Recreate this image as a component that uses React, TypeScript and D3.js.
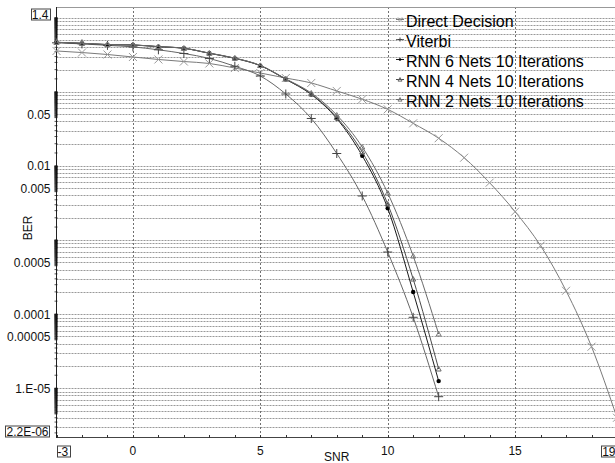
import React, { useEffect, useRef } from "react";
import * as d3 from "d3";

const snrLong = [-3, -2, -1, 0, 1, 2, 3, 4, 5, 6, 7, 8, 9, 10, 11, 12, 13, 14, 15, 16, 17, 18, 19];
const snrShort = [-3, -2, -1, 0, 1, 2, 3, 4, 5, 6, 7, 8, 9, 10, 11, 12];

const directDecision = [0.357, 0.34, 0.32, 0.296, 0.274, 0.257, 0.242, 0.21, 0.18, 0.154, 0.132, 0.103,
  0.0797, 0.0582, 0.0377, 0.0237, 0.01295, 0.00595, 0.00242, 0.00084, 0.000207, 3.64e-5, 4.0e-6];
const viterbi = [0.46, 0.445, 0.425, 0.405, 0.37, 0.33, 0.283, 0.222, 0.164, 0.0937, 0.0438, 0.01475,
  0.00394, 0.00069, 9.08e-5, 7.7e-6];
const rnn6 = [0.467, 0.453, 0.435, 0.43, 0.408, 0.388, 0.332, 0.284, 0.226, 0.148, 0.0923, 0.0437,
  0.01377, 0.00269, 0.000199, 1.25e-5];
const rnn4 = [0.467, 0.453, 0.435, 0.43, 0.408, 0.388, 0.333, 0.285, 0.227, 0.149, 0.0937, 0.0452,
  0.01545, 0.00307, 0.000298, 1.82e-5];
const rnn2 = [0.468, 0.454, 0.436, 0.431, 0.409, 0.389, 0.334, 0.286, 0.228, 0.15, 0.0967, 0.0488,
  0.01805, 0.00432, 0.00061, 5.4e-5];

const seriesNames = ["Direct Decision", "Viterbi", "RNN 6 Nets 10 Iterations", "RNN 4 Nets 10 Iterations", "RNN 2 Nets 10 Iterations"];

const xTickLabels = ["0", "5", "10", "15"];
const xTickValues = [0, 5, 10, 15];
const yTickLabels = ["0.05", "0.01", "0.005", "0.0005", "0.0001", "0.00005", "1.E-05"];
const yTickValues = [0.05, 0.01, 0.005, 0.0005, 0.0001, 0.00005, 0.00001];

const W = 615;
const H = 463;

const markerPath = (kind: string, s: number) => {
  if (kind === "cross") return `M${-s},${-s}L${s},${s}M${-s},${s}L${s},${-s}`;
  if (kind === "plus") return `M${-s},0L${s},0M0,${-s}L0,${s}`;
  if (kind === "tri") return `M0,${-s}L${s},${s * 0.8}L${-s},${s * 0.8}Z`;
  return "";
};

const App = () => {
  const ref = useRef<SVGSVGElement>(null);

  useEffect(() => {
    drawChart();
  }, []);

  const drawChart = () => {
    const svg = d3.select(ref.current);
    svg.selectAll("*").remove();

    const x = d3.scaleLinear().domain([-3, 19]).range([56.5, 617]);
    const y = d3.scaleLog().domain([2.2e-6, 1.4]).range([437, 7]);
    const left = x(-3);
    const right = x(19);
    const top = y(1.4);
    const bottom = y(2.2e-6);

    // horizontal dotted grid at every log minor value
    const gridVals: number[] = [];
    for (let e = -6; e <= 0; e++) {
      for (let m = 1; m <= 9; m++) {
        const v = m * Math.pow(10, e);
        if (v > 2.3e-6 && v < 1.39) gridVals.push(v);
      }
    }
    svg.append("g")
      .selectAll("line")
      .data(gridVals)
      .enter()
      .append("line")
      .attr("x1", left)
      .attr("x2", right)
      .attr("y1", (d) => Math.round(y(d)) + 0.5)
      .attr("y2", (d) => Math.round(y(d)) + 0.5)
      .attr("stroke", "#999")
      .attr("stroke-dasharray", "2,1");

    svg.append("g")
      .selectAll("line")
      .data(xTickValues)
      .enter()
      .append("line")
      .attr("x1", (d) => Math.round(x(d)) + 0.5)
      .attr("x2", (d) => Math.round(x(d)) + 0.5)
      .attr("y1", top)
      .attr("y2", bottom)
      .attr("stroke", "#707070")
      .attr("stroke-dasharray", "2,2");

    // frame
    svg.append("line").attr("x1", left).attr("x2", right).attr("y1", top + 0.5).attr("y2", top + 0.5)
      .attr("stroke", "#999");
    svg.append("line").attr("x1", left).attr("x2", right).attr("y1", bottom + 0.5).attr("y2", bottom + 0.5)
      .attr("stroke", "#444");
    svg.append("line").attr("x1", left).attr("x2", left).attr("y1", top).attr("y2", bottom + 1)
      .attr("stroke", "#222");

    // y ticks (dense in upper half of each decade)
    const yTicks: number[] = [];
    for (let e = -6; e <= 0; e++) {
      for (let m = 1; m < 4.5; m += 0.5) yTicks.push(m * Math.pow(10, e));
      for (let m = 4.5; m < 10; m += 0.1) yTicks.push(m * Math.pow(10, e));
    }
    svg.append("g")
      .selectAll("line")
      .data(yTicks.filter((v) => v > 2.2e-6 && v < 1.05))
      .enter()
      .append("line")
      .attr("x1", left - 2)
      .attr("x2", left + 1)
      .attr("y1", (d) => y(d))
      .attr("y2", (d) => y(d))
      .attr("stroke", "#111")
      .attr("stroke-width", 0.7);

    // x minor ticks
    svg.append("g")
      .selectAll("line")
      .data(snrLong)
      .enter()
      .append("line")
      .attr("x1", (d) => Math.round(x(d)) + 0.5)
      .attr("x2", (d) => Math.round(x(d)) + 0.5)
      .attr("y1", bottom - 2)
      .attr("y2", bottom + 1)
      .attr("stroke", "#333");

    const font = "'Liberation Sans', Arial, sans-serif";

    // y labels
    svg.append("g")
      .selectAll("text")
      .data(yTickValues)
      .enter()
      .append("text")
      .attr("x", left - 6)
      .attr("y", (d) => y(d))
      .attr("dy", "0.36em")
      .attr("text-anchor", "end")
      .attr("font-family", font)
      .attr("font-size", 12)
      .attr("fill", "#111")
      .text((d, i) => yTickLabels[i]);

    // x labels
    svg.append("g")
      .selectAll("text")
      .data(xTickValues)
      .enter()
      .append("text")
      .attr("x", (d) => x(d))
      .attr("y", 455)
      .attr("text-anchor", "middle")
      .attr("font-family", font)
      .attr("font-size", 12)
      .attr("fill", "#111")
      .text((d, i) => xTickLabels[i]);

    // boxed end labels
    const boxed = (label: string, tx: number, ty: number, anchor: string) => {
      const g = svg.append("g");
      const t = g.append("text")
        .attr("x", tx)
        .attr("y", ty)
        .attr("text-anchor", anchor)
        .attr("font-family", font)
        .attr("font-size", 12)
        .attr("fill", "#111")
        .text(label);
      const bb = (t.node() as SVGTextElement).getBBox();
      g.insert("rect", "text")
        .attr("x", Math.round(bb.x) - 0.5)
        .attr("y", ty - 9.5)
        .attr("width", Math.round(bb.width) + 2)
        .attr("height", 11)
        .attr("fill", "white")
        .attr("stroke", "#444");
    };
    boxed("1.4", 48.5, 18.5, "end");
    boxed("2.2E-06", 48.5, 435.5, "end");
    boxed("-3", left + 1, 455.5, "start");
    boxed("19", right - 1.5, 455.5, "end");

    // axis titles
    svg.append("text")
      .attr("x", (left + right) / 2)
      .attr("y", 460.5)
      .attr("text-anchor", "middle")
      .attr("font-family", font)
      .attr("font-size", 12)
      .attr("fill", "#111")
      .text("SNR");
    svg.append("text")
      .attr("transform", "translate(32,228) rotate(-90)")
      .attr("text-anchor", "middle")
      .attr("font-family", font)
      .attr("font-size", 12)
      .attr("fill", "#111")
      .text("BER");

    const series = [
      { xs: snrLong, ys: directDecision, line: "#7a7a7a", mark: "cross", mcolor: "#9a9a9a", size: 4 },
      { xs: snrShort, ys: viterbi, line: "#666", mark: "plus", mcolor: "#444", size: 4.5 },
      { xs: snrShort, ys: rnn6, line: "#1a1a1a", mark: "dot", mcolor: "#000", size: 2.2 },
      { xs: snrShort, ys: rnn4, line: "#4a4a4a", mark: "tri", mcolor: "#666", size: 2.5 },
      { xs: snrShort, ys: rnn2, line: "#6a6a6a", mark: "tri", mcolor: "#777", size: 2.5 },
    ];

    const line = d3.line<number[]>()
      .x((d) => x(d[0]))
      .y((d) => y(d[1]))
      .curve(d3.curveMonotoneX);

    series.forEach((s) => {
      const pts = s.xs.map((v, i) => [v, s.ys[i]]);
      svg.append("path")
        .attr("d", line(pts))
        .attr("fill", "none")
        .attr("stroke", s.line)
        .attr("stroke-width", 1);
      const g = svg.append("g");
      pts.forEach((p) => {
        if (s.mark === "dot") {
          g.append("circle")
            .attr("cx", x(p[0]))
            .attr("cy", y(p[1]))
            .attr("r", s.size)
            .attr("fill", s.mcolor);
        } else {
          g.append("path")
            .attr("transform", `translate(${x(p[0])},${y(p[1])})`)
            .attr("d", markerPath(s.mark, s.size))
            .attr("fill", "none")
            .attr("stroke", s.mcolor)
            .attr("stroke-width", 1);
        }
      });
    });

    // legend
    const lg = svg.append("g");
    seriesNames.forEach((name, i) => {
      const by = 27 + i * 20;
      const s = series[i];
      lg.append("line")
        .attr("x1", 396)
        .attr("x2", 404)
        .attr("y1", by - 7.5)
        .attr("y2", by - 7.5)
        .attr("stroke", s.line);
      if (s.mark === "dot") {
        lg.append("circle").attr("cx", 400).attr("cy", by - 7.5).attr("r", 1.3).attr("fill", s.mcolor);
      } else {
        lg.append("path")
          .attr("transform", `translate(400,${by - 7.5})`)
          .attr("d", markerPath(s.mark, 2))
          .attr("fill", "none")
          .attr("stroke", s.mcolor);
      }
      lg.append("text")
        .attr("x", 406)
        .attr("y", by)
        .attr("font-family", font)
        .attr("font-size", 16)
        .attr("fill", "#000")
        .text(name);
    });
  };

  return (
    <svg ref={ref} width={W} height={H} style={{ position: "absolute", left: 0, top: 0, background: "white" }} />
  );
};

export default App;
